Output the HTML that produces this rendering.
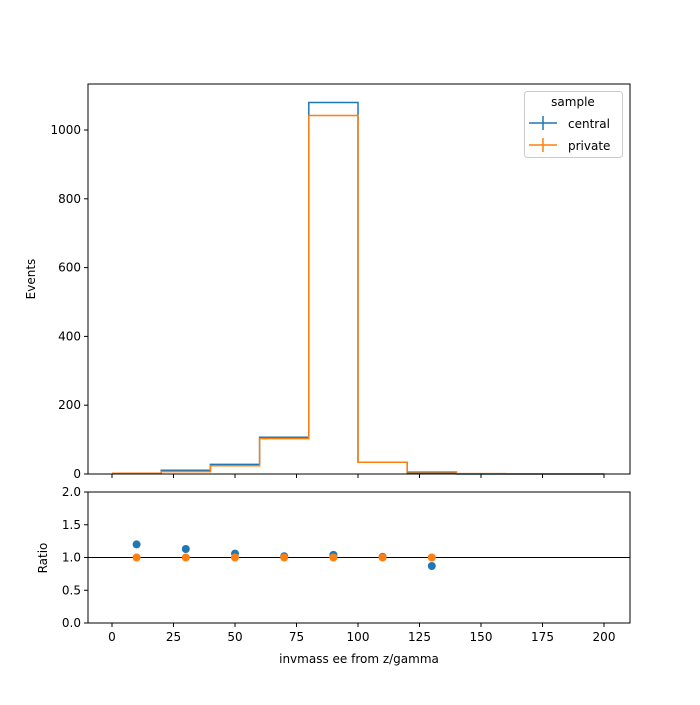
<!DOCTYPE html>
<html><head><meta charset="utf-8"><style>
body{margin:0;background:#fff;}
svg text{font-family:"DejaVu Sans","Liberation Sans",sans-serif;font-size:12px;fill:#000;}
</style></head><body>
<svg id="c" width="700" height="700" xmlns="http://www.w3.org/2000/svg">
<rect x="0" y="0" width="700" height="700" fill="#fff"/>
<g id="main"></g>
<g id="ratio"></g>
<rect x="88" y="84" width="542" height="390" fill="none" stroke="#000" stroke-width="1"/>
<rect x="88" y="492" width="542" height="131" fill="none" stroke="#000" stroke-width="1"/>
<text x="35" y="279" text-anchor="middle" transform="rotate(-90 35 279)">Events</text>
<text x="47" y="558" text-anchor="middle" transform="rotate(-90 47 558)">Ratio</text>
<text x="359" y="663" text-anchor="middle">invmass ee from z/gamma</text>
<g>
<rect x="524.5" y="91.5" width="98" height="66" rx="3" fill="#fff" stroke="#ccc"/>
<text x="573" y="106" text-anchor="middle">sample</text>
<g><line x1="529" y1="123" x2="557" y2="123" stroke="#1f77b4" stroke-width="1.5"/><line x1="543" y1="116" x2="543" y2="130" stroke="#1f77b4" stroke-width="1.5"/><text x="568" y="128">central</text></g>
<g><line x1="529" y1="145" x2="557" y2="145" stroke="#ff7f0e" stroke-width="1.5"/><line x1="543" y1="138" x2="543" y2="152" stroke="#ff7f0e" stroke-width="1.5"/><text x="568" y="150">private</text></g>
</g>
</svg>
<script>
const binEdges=[0,20,40,60,80,100,120,140,160,180,200];
const central=[2,11,28,107,1080,34,2,0,0,0];
const priv=[2,7,24,103,1042,34,6,1,0.5,0.5];
const ratioCentral=[1.2,1.13,1.06,1.02,1.04,1.01,0.87];
const ratioPrivate=[1,1,1,1,1,1,1];
const xTicks=[0,25,50,75,100,125,150,175,200];
const yTicks=[0,200,400,600,800,1000];
const rTicks=[0,0.5,1.0,1.5,2.0];
const ns="http://www.w3.org/2000/svg";
const X=v=>112+v*2.46;
const Y=v=>474-v*0.344;
const R=v=>623-v*65.5;
const main=document.getElementById('main'),ratio=document.getElementById('ratio');
function mk(t,a,p){const e=document.createElementNS(ns,t);for(const k in a)e.setAttribute(k,a[k]);p.appendChild(e);return e;}
function step(vals,color,name){let d='';for(let i=0;i<vals.length;i++){d+=(i?'L':'M')+X(binEdges[i])+','+Y(vals[i])+'L'+X(binEdges[i+1])+','+Y(vals[i]);}
const p=mk('path',{d:d,fill:'none',stroke:color,'stroke-width':1.5},main);

}
step(central,'#1f77b4','central-histogram');
step(priv,'#ff7f0e','private-histogram');
xTicks.forEach(v=>{[474,623].forEach(y=>{const l=mk('line',{x1:X(v),x2:X(v),y1:y,y2:y+4,stroke:'#000'},main);

});
const t=mk('text',{x:X(v),y:641,'text-anchor':'middle'},ratio);t.textContent=v;

});
yTicks.forEach(v=>{mk('line',{x1:84,x2:88,y1:Y(v),y2:Y(v),stroke:'#000'},main);
const t=mk('text',{x:81,y:Y(v)+4,'text-anchor':'end'},main);t.textContent=v;

});
rTicks.forEach(v=>{mk('line',{x1:84,x2:88,y1:R(v),y2:R(v),stroke:'#000'},ratio);
const t=mk('text',{x:81,y:R(v)+4,'text-anchor':'end'},ratio);t.textContent=v.toFixed(1);

});
const ref=mk('line',{x1:88,x2:630,y1:R(1),y2:R(1),stroke:'#000','stroke-width':1},ratio);


ratioCentral.forEach((v,i)=>{const c=mk('circle',{cx:X((binEdges[i]+binEdges[i+1])/2),cy:R(v),r:4,fill:'#1f77b4'},ratio);

});
ratioPrivate.forEach((v,i)=>{const c=mk('circle',{cx:X((binEdges[i]+binEdges[i+1])/2),cy:R(v),r:4,fill:'#ff7f0e'},ratio);

});
</script>
</body></html>
